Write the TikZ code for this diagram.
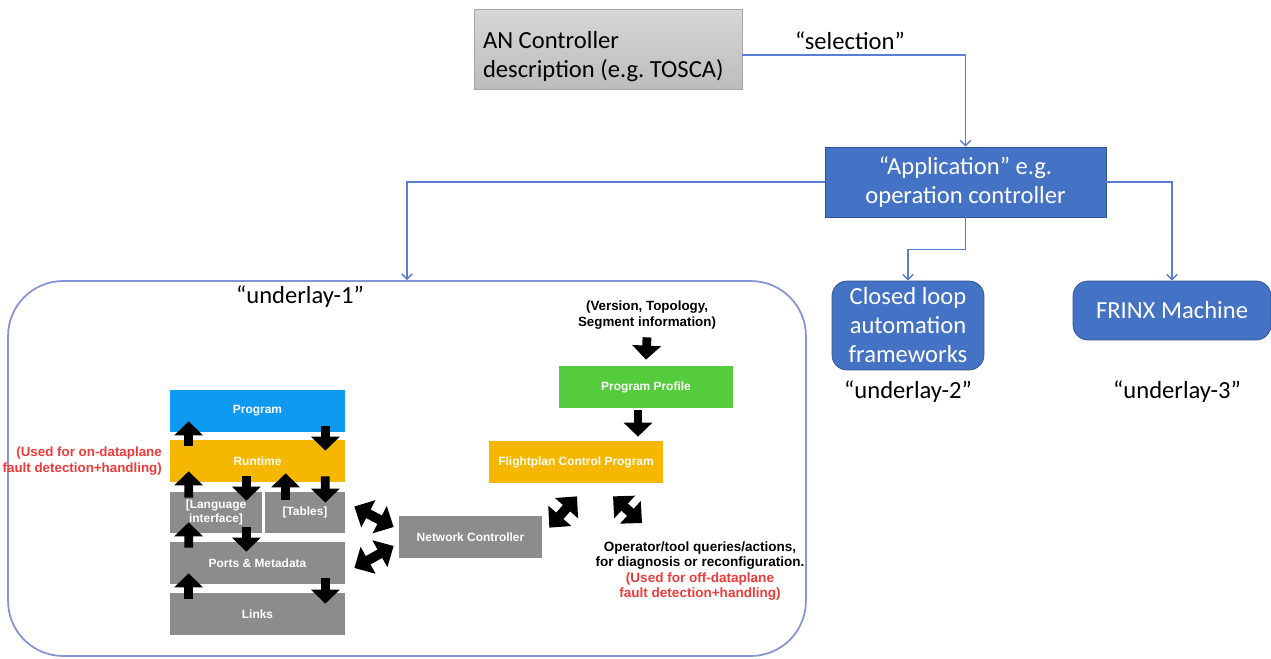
\documentclass[tikz,border=0pt]{standalone}
\usepackage{fontspec}
\setmainfont{Carlito}
\newfontfamily\insfont{Liberation Sans}
\usetikzlibrary{arrows.meta,calc}
\frenchspacing

\definecolor{appblue}{HTML}{4472C4}
\definecolor{appedge}{HTML}{2F528F}
\definecolor{linkblue}{HTML}{5B7FD0}
\definecolor{ulframe}{HTML}{8494D4}
\definecolor{progblue}{HTML}{0F9AF2}
\definecolor{rtamber}{HTML}{F5B700}
\definecolor{boxgray}{HTML}{8C8C8C}
\definecolor{profgreen}{HTML}{55CC3C}
\definecolor{notered}{HTML}{F03A3A}

\begin{document}
\begin{tikzpicture}[
                x=0.02cm, y=-0.02cm, % one unit = one pixel of the sketch, y downwards
                every node/.style={font=\fontsize{14}{16.5}\selectfont},
                link/.style={draw=linkblue, line width=0.8pt, -{Straight Barb[length=3pt,width=6pt]}},
                appbox/.style={draw=appedge, fill=appblue, text=white, align=center, inner sep=1pt},
                inbox/.style={text=white, inner sep=0pt, align=center,
                    font=\insfont\bfseries\fontsize{6.8}{8.2}\selectfont},
                blk/.style={line width=5pt, -{Triangle[width=16pt,length=8pt]}},
                dblk/.style={line width=5.5pt, {Triangle[width=17pt,length=9pt]}-{Triangle[width=17pt,length=9pt]}},
                note/.style={align=center, font=\insfont\bfseries\fontsize{7.6}{9}\selectfont}
            ]

            \useasboundingbox (0,0) rectangle (1271,659);

            % top part
            \node[draw=black!35, top color=black!16, bottom color=black!26,
                  minimum width=5.36cm, minimum height=1.6cm] (an) at (608,49) {};
            \node[anchor=west, align=left, inner sep=0pt] (antext) at ($(an.west)+(9,8)$)
                {AN Controller\\description (e.g. TOSCA)};
            \node (sel) at (850,41) {“selection”};

            \node[appbox, minimum width=5.62cm, minimum height=1.4cm] (app) at (965.5,182)
                {“Application” e.g.\\operation controller};

            \node[appbox, rounded corners=0.3cm, minimum width=3.04cm, minimum height=1.78cm] (clf) at (908,325.5)
                {Closed loop\\automation\\frameworks};
            \node[appbox, rounded corners=0.3cm, minimum width=3.96cm, minimum height=1.18cm] (frinx) at (1172,310.5)
                {FRINX Machine};
            \node (ul2) at (908,392) {“underlay-2”};
            \node (ul3) at (1177,392) {“underlay-3”};

            % underlay-1 frame
            \node[draw=ulframe, line width=1pt, rounded corners=1.1cm,
                  minimum width=15.96cm, minimum height=7.5cm] (ul1) at (407,468.5) {};
            \node (ul1lbl) at (300,297) {“underlay-1”};

            \draw[link] ([yshift=-0.12cm]an.east) -| (app.north);
            \draw[link] (app.west) -| (ul1.north);
            \draw[link] (app.south) -- ++(0,32) -| (clf.north);
            \draw[link] (app.east) -| (frinx.north);

            % stack
            \node[inbox, fill=progblue, minimum width=3.5cm, minimum height=0.84cm] (prog) at (257.5,411) {Program};
            \node[inbox, fill=rtamber, minimum width=3.5cm, minimum height=0.84cm] (rt) at (257.5,461) {Runtime};
            \node[inbox, fill=boxgray, minimum width=1.84cm, minimum height=0.82cm] (lang) at (216,512.5) {[Language\\interface]};
            \node[inbox, fill=boxgray, minimum width=1.6cm, minimum height=0.82cm] (tab) at (305,512.5) {[Tables]};
            \node[inbox, fill=boxgray, minimum width=3.5cm, minimum height=0.84cm] (ports) at (257.5,563) {Ports \& Metadata};
            \node[inbox, fill=boxgray, minimum width=3.5cm, minimum height=0.84cm] (links) at (257.5,614) {Links};

            \node[note, text=notered, align=right, anchor=east] (onnote) at (168,461)
                {(Used for on-dataplane\\fault detection+handling)};

            \foreach \lo/\up in {rt/prog, lang/rt, ports/lang, links/ports}
                \draw[blk] ($(\lo.north west)+(19,6)$) -- ($(\up.south west)+(19,-11)$);
            \foreach \up/\lo in {prog/rt, rt/tab, ports/links}
                \draw[blk] ($(\up.south east)+(-20,-6)$) -- ($(\lo.north east)+(-20,11)$);
            \draw[blk] ($(rt.south -| lang.east)+(-16,-6)$) -- ($(lang.north east)+(-16,9)$);
            \draw[blk] ($(lang.south east)+(-16,-6)$) -- ($(ports.north -| lang.east)+(-16,10)$);
            \draw[blk] ($(tab.north west)+(21,8)$) -- ($(rt.south -| tab.west)+(21,-9)$);

            % controllers
            \node[inbox, fill=boxgray, minimum width=2.86cm, minimum height=0.84cm] (nc) at (470.5,537) {Network Controller};
            \node[inbox, fill=rtamber, minimum width=3.48cm, minimum height=0.84cm] (fcp) at (576,462) {Flightplan Control Program};
            \node[inbox, fill=profgreen, minimum width=3.48cm, minimum height=0.84cm] (pp) at (646,387) {Program Profile};

            \node[note] (info) at (647,315) {(Version, Topology,\\Segment information)};
            \node[note, font=\insfont\bfseries\fontsize{7.7}{8.9}\selectfont] (ops) at (700,571)
                {Operator/tool queries/actions,\\for diagnosis or reconfiguration.\\
                 \textcolor{notered}{(Used for off-dataplane}\\\textcolor{notered}{fault detection+handling)}};

            \draw[blk] ($(info.south)+(0,2)$) -- ($(pp.north)+(0,-6)$);
            \draw[blk] ($(pp.south)+(-8,2)$) -- ($(fcp.north -| pp.south)+(-8,-4)$);

            \draw[dblk] ($(tab.east)+(9,-6)$) -- ($(nc.west)+(-5,-10)$);
            \draw[dblk] ($(ports.east)+(9,5)$) -- ($(nc.west)+(-5,9)$);
            \draw[dblk] ($(nc.north east)+(7,12)$) -- ($(fcp.south)+(1,13)$);
            \draw[dblk] ($(fcp.south)+(37,13)$) -- ($(ops.north)+(-58,-12)$);

        \end{tikzpicture}
\end{document}
